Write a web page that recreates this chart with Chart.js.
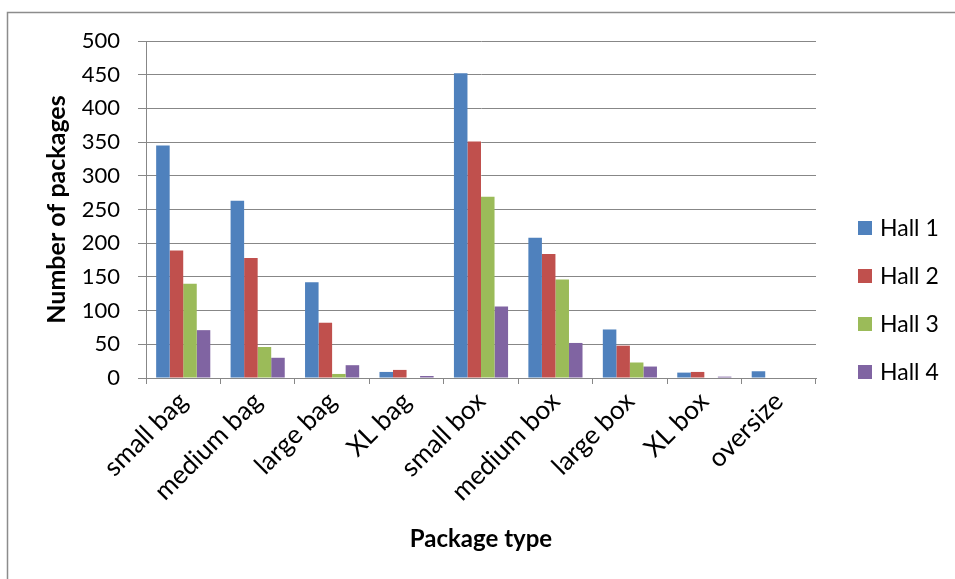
<!DOCTYPE html>
<html>
<head>
<meta charset="utf-8">
<script src="https://cdn.jsdelivr.net/npm/chart.js@4/dist/chart.umd.min.js"></script>
<style>
  html, body { margin: 0; padding: 0; background: #ffffff; }
  #wrap { width: 955px; height: 579px; position: relative; }
</style>
</head>
<body>
<div id="wrap"><canvas id="chart"></canvas></div>
<script>
// Package counts per hall, by package type
const categories = ['small bag', 'medium bag', 'large bag', 'XL bag', 'small box', 'medium box', 'large box', 'XL box', 'oversize'];
const seriesNames = ['Hall 1', 'Hall 2', 'Hall 3', 'Hall 4'];
const hall1 = [345, 263, 142, 9, 452, 208, 72, 8, 10];
const hall2 = [189, 178, 82, 12, 351, 184, 48, 9, 0];
const hall3 = [140, 46, 6, 0, 269, 146, 23, 0, 0];
const hall4 = [71, 30, 19, 3, 106, 52, 17, 2, 0];
const yTicks = [0, 50, 100, 150, 200, 250, 300, 350, 400, 450, 500];

const colors = ['#4F81BD', '#C0504D', '#9BBB59', '#8064A2'];
const gridGray = '#878787';
const textFont = 'Lato, "Open Sans", sans-serif';

const datasets = [hall1, hall2, hall3, hall4].map((vals, i) => ({
  label: seriesNames[i],
  data: vals,
  backgroundColor: colors[i],
  borderWidth: 0,
  categoryPercentage: 4 / 5.5,
  barPercentage: 1.0
}));

// Outer frame around the chart
const framePlugin = {
  id: 'frame',
  beforeDraw(chart) {
    const ctx = chart.ctx;
    ctx.save();
    ctx.fillStyle = '#ffffff';
    ctx.fillRect(0, 0, chart.width, chart.height);
    ctx.strokeStyle = '#8c8c8c';
    ctx.lineWidth = 1.5;
    ctx.strokeRect(7.5, 12.5, chart.width + 20, chart.height + 20);
    ctx.restore();
  }
};

// Legend column on the right
const sideLegend = {
  id: 'sideLegend',
  afterDraw(chart) {
    const ctx = chart.ctx;
    const x = 858, box = 14, top = 228, step = 48;
    ctx.save();
    ctx.font = '23px ' + textFont;
    ctx.textBaseline = 'middle';
    ctx.textAlign = 'left';
    chart.data.datasets.forEach((ds, i) => {
      const cy = top + i * step;
      ctx.fillStyle = ds.backgroundColor;
      ctx.fillRect(x, cy - box / 2, box, box);
      ctx.fillStyle = '#000000';
      ctx.fillText(ds.label, x + 22, cy + 1);
    });
    ctx.restore();
  }
};

new Chart(document.getElementById('chart'), {
  type: 'bar',
  data: { labels: categories, datasets },
  options: {
    responsive: true,
    maintainAspectRatio: false,
    animation: false,
    layout: { padding: { top: 41, right: 139, bottom: 0, left: 0 } },
    plugins: {
      legend: { display: false },
      tooltip: { enabled: false }
    },
    scales: {
      x: {
        grid: {
          display: true,
          drawOnChartArea: false,
          drawTicks: true,
          tickLength: 6,
          color: gridGray,
          offset: true
        },
        border: { display: true, color: gridGray, width: 1 },
        ticks: {
          color: '#000000',
          font: { family: textFont, size: 26 },
          maxRotation: 45,
          minRotation: 45,
          padding: 2
        },
        title: {
          display: true,
          text: 'Package type',
          color: '#000000',
          font: { family: textFont, size: 24, weight: 'bold' },
          padding: { top: 0, bottom: 25 }
        },
        afterFit(scale) { scale.height = 201; }
      },
      y: {
        min: 0,
        max: 500,
        afterBuildTicks(scale) { scale.ticks = yTicks.map(v => ({ value: v })); },
        grid: {
          color: gridGray,
          lineWidth: 1,
          drawTicks: true,
          tickLength: 8
        },
        border: { display: true, color: gridGray, width: 1 },
        ticks: {
          color: '#000000',
          font: { family: textFont, size: 22 },
          padding: 18
        },
        title: {
          display: true,
          text: 'Number of packages',
          color: '#000000',
          font: { family: textFont, size: 25, weight: 'bold' },
          padding: { top: 42, bottom: 0 }
        },
        afterFit(scale) { scale.width = 146; }
      }
    }
  },
  plugins: [framePlugin, sideLegend]
});
</script>
</body>
</html>
